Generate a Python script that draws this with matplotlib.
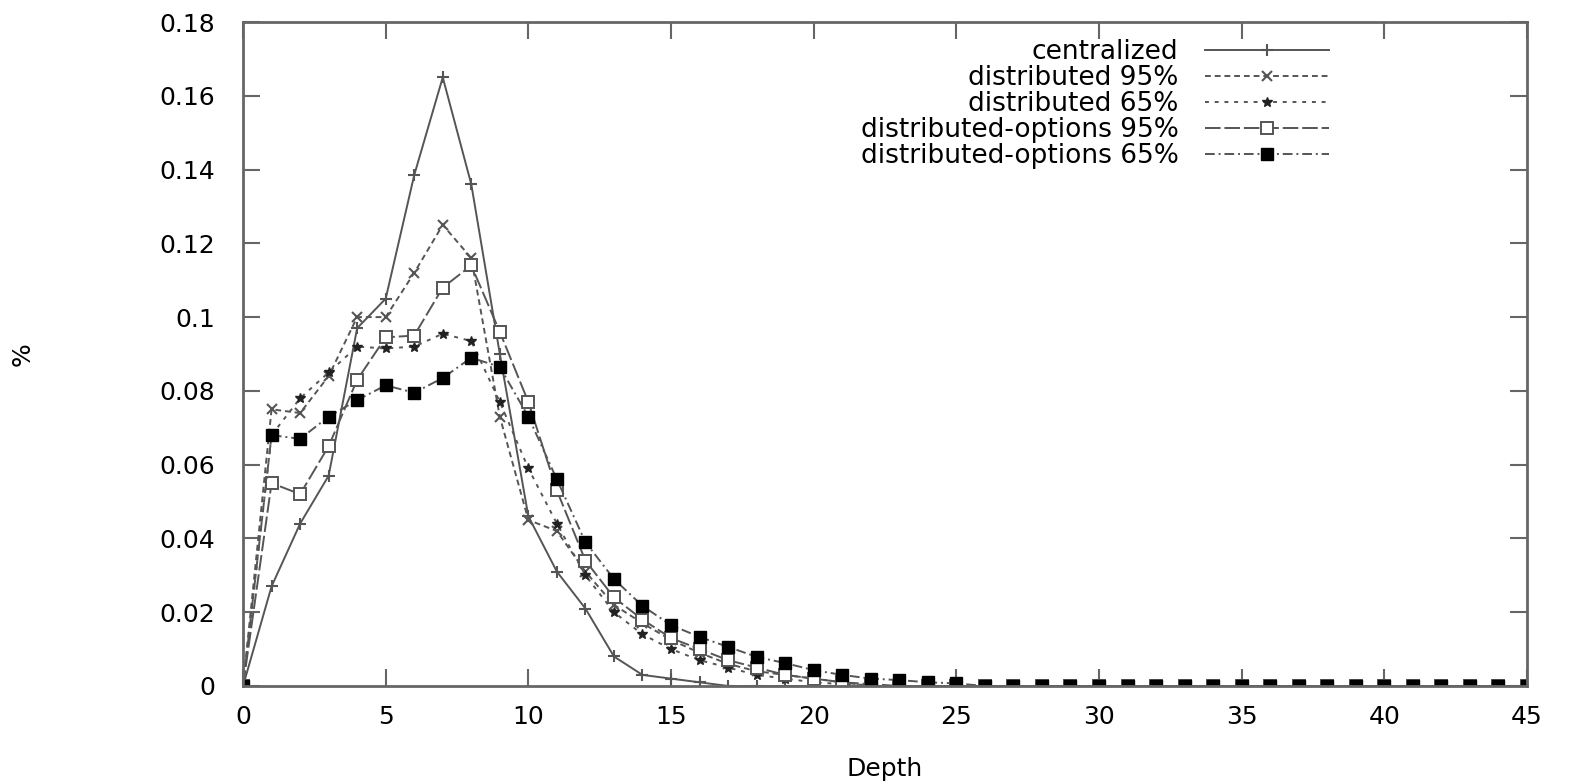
import matplotlib.pyplot as plt
from matplotlib.ticker import FuncFormatter

plt.rcParams['font.family'] = ['DejaVu Sans']

depth = list(range(46))

# values, depth 0..45
centralized = [0, 0.027, 0.044, 0.057, 0.097, 0.105, 0.1385, 0.165, 0.136, 0.090,
               0.046, 0.031, 0.021, 0.008, 0.003, 0.002, 0.001, 0, 0, 0,
               0, 0, 0, 0, 0, 0, 0, 0, 0, 0,
               0, 0, 0, 0, 0, 0, 0, 0, 0, 0,
               0, 0, 0, 0, 0, 0]
dist95 = [0, 0.075, 0.074, 0.084, 0.100, 0.100, 0.112, 0.125, 0.116, 0.073,
          0.045, 0.042, 0.031, 0.022, 0.017, 0.0125, 0.009, 0.006, 0.004, 0.003,
          0.002, 0.001, 0, 0, 0, 0, 0, 0, 0, 0,
          0, 0, 0, 0, 0, 0, 0, 0, 0, 0,
          0, 0, 0, 0, 0, 0]
dist65 = [0, 0.068, 0.078, 0.085, 0.092, 0.0915, 0.092, 0.0955, 0.0935, 0.077,
          0.059, 0.044, 0.030, 0.020, 0.014, 0.010, 0.007, 0.005, 0.003, 0.002,
          0.001, 0.0005, 0, 0, 0, 0, 0, 0, 0, 0,
          0, 0, 0, 0, 0, 0, 0, 0, 0, 0,
          0, 0, 0, 0, 0, 0]
opt95 = [0, 0.055, 0.052, 0.065, 0.083, 0.0945, 0.095, 0.108, 0.114, 0.096,
         0.077, 0.053, 0.034, 0.024, 0.018, 0.013, 0.010, 0.007, 0.005, 0.003,
         0.002, 0.001, 0.0005, 0, 0, 0, 0, 0, 0, 0,
         0, 0, 0, 0, 0, 0, 0, 0, 0, 0,
         0, 0, 0, 0, 0, 0]
opt65 = [0, 0.068, 0.067, 0.073, 0.0775, 0.0815, 0.0795, 0.0835, 0.089, 0.0865,
         0.073, 0.056, 0.039, 0.029, 0.0217, 0.0165, 0.0133, 0.0106, 0.0079, 0.0062,
         0.0043, 0.003, 0.002, 0.0016, 0.001, 0.0007, 0, 0, 0, 0,
         0, 0, 0, 0, 0, 0, 0, 0, 0, 0,
         0, 0, 0, 0, 0, 0]

labels = ['centralized', 'distributed 95%', 'distributed 65%',
          'distributed-options 95%', 'distributed-options 65%']

fig = plt.figure(figsize=(15.69, 7.83), dpi=100)
ax = fig.add_axes([0.1549, 0.1239, 0.8183, 0.848])

gray = '#555555'
ax.plot(depth, centralized, color=gray, lw=1.4, ls='-', marker='+', ms=9, mew=1.5, label=labels[0])
ax.plot(depth, dist95, color=gray, lw=1.4, ls=(0, (3, 2)), marker='x', ms=7, mew=1.5, label=labels[1])
ax.plot(depth, dist65, color=gray, lw=1.4, ls=(0, (2, 3)), marker='*', ms=7, mew=1, mfc='#222222', mec='#222222', label=labels[2])
ax.plot(depth, opt95, color=gray, lw=1.4, ls=(0, (8, 2)), marker='s', ms=8, mew=1.4, mfc='white', label=labels[3])
ax.plot(depth, opt65, color=gray, lw=1.4, ls=(0, (5, 2, 1, 2)), marker='s', ms=8, mfc='black', mec='black', label=labels[4])

ax.set_xlim(0, 45)
ax.set_ylim(0, 0.18)
ax.set_xticks(range(0, 46, 5))
ax.set_yticks([0, 0.02, 0.04, 0.06, 0.08, 0.1, 0.12, 0.14, 0.16, 0.18])
ax.yaxis.set_major_formatter(FuncFormatter(lambda v, p: '%g' % round(v, 2)))
ax.tick_params(direction='in', top=True, right=True, length=12, width=1.5,
               color='#666666', labelsize=18)
ax.tick_params(axis='y', pad=20)
ax.tick_params(axis='x', pad=14)
for s in ax.spines.values():
    s.set_color('#666666')
    s.set_linewidth(2)

ax.set_xlabel('Depth', fontsize=18, labelpad=20)
ax.set_ylabel('%', fontsize=18)
ax.yaxis.set_label_coords(-0.162, 0.5)

leg = ax.legend(loc='upper right', bbox_to_anchor=(0.854, 0.99), frameon=False,
                markerfirst=False, fontsize=19, handlelength=4.7, labelspacing=0.0,
                handletextpad=1.0, borderaxespad=0)
for t in leg.get_texts():
    t.set_ha('right')
leg._legend_box.align = 'right'

fig.savefig('out.png', dpi=100)
